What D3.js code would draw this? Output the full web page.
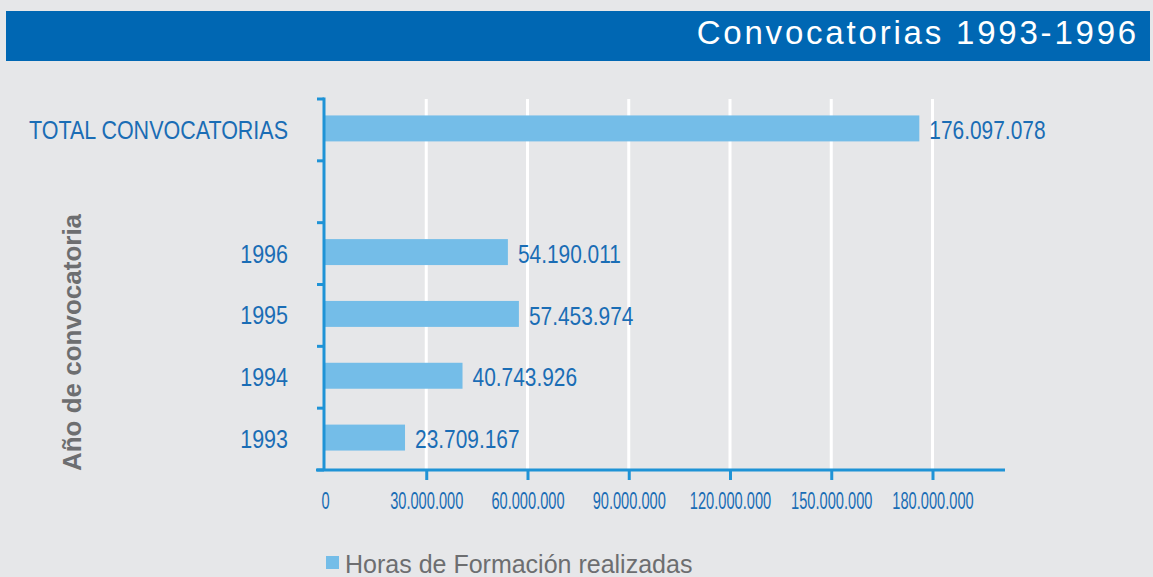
<!DOCTYPE html>
<html lang="es">
<head>
    <meta charset="utf-8">
    <title>Convocatorias 1993-1996</title>
    <script src="https://d3js.org/d3.v7.min.js"></script>
    <style>
        html, body {
            margin: 0;
            padding: 0;
            background: #e6e7e9;
        }
        svg {
            display: block;
        }
        text {
            font-family: "Liberation Sans", Arial, sans-serif;
        }
        .axis-line {
            stroke: #1f93d6;
            stroke-width: 3px;
            fill: none;
        }
        .grid line {
            stroke: #ffffff;
            stroke-width: 3px;
        }
    </style>
</head>
<body>
<script type="text/javascript">

    // data
    var categories = ["TOTAL CONVOCATORIAS", "", "1996", "1995", "1994", "1993"];
    var horas = [176097078, null, 54190011, 57453974, 40743926, 23709167];
    var xTicks = [0, 30000000, 60000000, 90000000, 120000000, 150000000, 180000000];
    var title = "Convocatorias 1993-1996";
    var yTitle = "Año de convocatoria";
    var legendLabel = "Horas de Formación realizadas";

    var w = 1153, h = 577;
    var blue = "#1a6db5";
    var narrow = 0.82; // no condensed font installed, squeeze regular one

    var es = d3.formatLocale({decimal: ",", thousands: ".", grouping: [3], currency: ["", ""]});
    var fmt = es.format(",d");

    var rows = categories.map(function(c, i) { return {cat: c, value: horas[i]}; });

    var svg = d3.select("body").append("svg")
        .attr("width", w)
        .attr("height", h);

    // title bar
    svg.append("rect")
        .attr("x", 6).attr("y", 11)
        .attr("width", 1144).attr("height", 50)
        .attr("fill", "#0067b3");
    svg.append("text")
        .attr("x", 1139).attr("y", 44)
        .attr("text-anchor", "end")
        .attr("fill", "#ffffff")
        .style("font-size", "33px")
        .style("letter-spacing", "2.8px")
        .text(title);

    // scales
    var x = d3.scaleLinear().domain([0, 200000000]).range([325, 1000]);
    var y = d3.scaleBand().domain(categories).range([99, 470]).padding(0);
    var barH = y.bandwidth() * 0.42;
    var x0 = x(0), yBottom = y.range()[1], yTop = y.range()[0];

    // gridlines
    svg.append("g").attr("class", "grid")
        .selectAll("line")
        .data(xTicks.filter(function(d) { return d > 0; }))
        .enter().append("line")
        .attr("x1", function(d) { return x(d); })
        .attr("x2", function(d) { return x(d); })
        .attr("y1", yTop)
        .attr("y2", yBottom);

    // bars
    var data = rows.filter(function(d) { return d.value != null; });
    svg.append("g").selectAll("rect")
        .data(data)
        .enter().append("rect")
        .attr("x", x0 - 2)
        .attr("y", function(d) { return y(d.cat) + (y.bandwidth() - barH) / 2 - 1.5; })
        .attr("width", function(d) { return x(d.value) - x0 + 2; })
        .attr("height", barH)
        .attr("fill", "#74bde8");

    // value labels
    svg.append("g").selectAll("text")
        .data(data)
        .enter().append("text")
        .attr("transform", function(d) {
            return "translate(" + (x(d.value) + 10) + "," + (y(d.cat) + y.bandwidth() / 2) + ") scale(" + narrow + ",1)";
        })
        .attr("dy", "0.36em")
        .attr("fill", blue)
        .style("font-size", "25.5px")
        .text(function(d) { return fmt(d.value); });

    // y axis: labels
    var yAxis = d3.axisLeft(y).tickSize(0).tickPadding(0);
    var gy = svg.append("g")
        .attr("transform", "translate(" + x0 + ",0)")
        .call(yAxis);
    gy.select(".domain").remove();
    gy.selectAll("text")
        .attr("x", 0)
        .attr("transform", "translate(-37,0) scale(0.86,1)")
        .attr("fill", blue)
        .attr("dy", "0.36em")
        .style("font-family", "'Liberation Sans', Arial, sans-serif")
        .style("font-size", "25px");

    // y axis line + boundary ticks
    var bounds = categories.map(function(c) { return y(c); }).concat([yBottom]);
    svg.append("line").attr("class", "axis-line")
        .attr("x1", x0 - 1).attr("x2", x0 - 1)
        .attr("y1", yTop - 1.5).attr("y2", yBottom);
    svg.append("g").selectAll("line")
        .data(bounds)
        .enter().append("line")
        .attr("class", "axis-line")
        .attr("x1", x0 - 8).attr("x2", x0 - 1)
        .attr("y1", function(d) { return d; })
        .attr("y2", function(d) { return d; });

    // x axis
    var xAxis = d3.axisBottom(x)
        .tickValues(xTicks)
        .tickFormat(fmt)
        .tickSize(10)
        .tickSizeOuter(0)
        .tickPadding(0);
    var gx = svg.append("g")
        .attr("transform", "translate(0," + yBottom + ")")
        .call(xAxis);
    gx.select(".domain").remove();
    gx.selectAll(".tick line")
        .attr("class", "axis-line")
        .style("display", function(d) { return d === 0 ? "none" : null; });
    gx.selectAll(".tick text")
        .attr("y", 0)
        .attr("dy", 0)
        .attr("transform", "translate(0,39) scale(0.61,1)")
        .attr("fill", blue)
        .style("font-family", "'Liberation Sans', Arial, sans-serif")
        .style("font-size", "24px");
    svg.append("line").attr("class", "axis-line")
        .attr("x1", x0 - 9).attr("x2", x.range()[1] + 5)
        .attr("y1", yBottom).attr("y2", yBottom);

    // y title
    svg.append("text")
        .attr("transform", "translate(81," + ((yTop + yBottom) / 2 + 58) + ") rotate(-90)")
        .attr("text-anchor", "middle")
        .attr("fill", "#6d6e70")
        .style("font-weight", "bold")
        .style("font-size", "26px")
        .text(yTitle);

    // legend
    var lg = svg.append("g").attr("transform", "translate(326,556)");
    lg.append("rect")
        .attr("width", 13).attr("height", 13)
        .attr("fill", "#74bde8");
    lg.append("text")
        .attr("x", 19).attr("y", 16.5)
        .attr("fill", "#6d6e70")
        .style("font-size", "25px")
        .text(legendLabel);

</script>
</body>
</html>
